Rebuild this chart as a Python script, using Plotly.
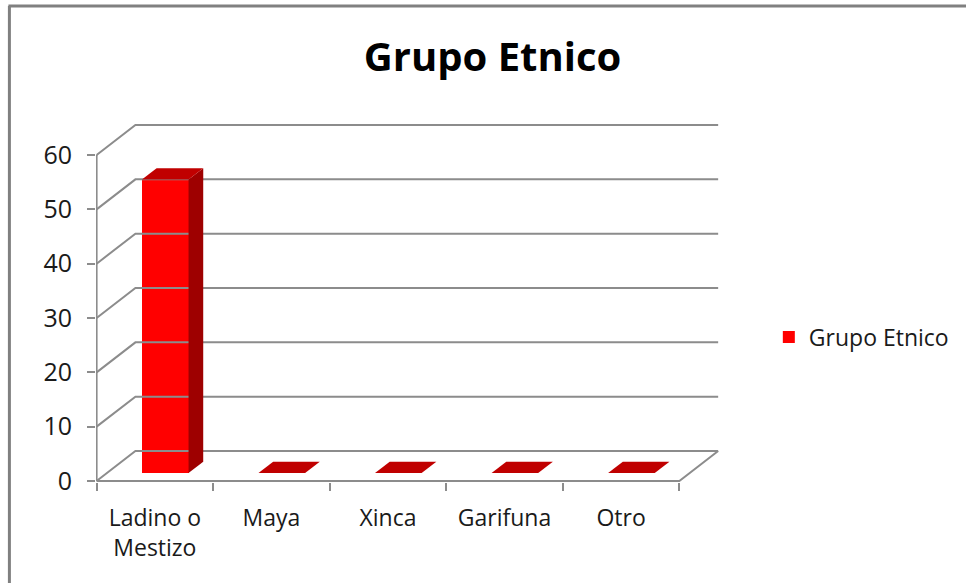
import plotly.graph_objects as go

# ---- data ----
categories = ["Ladino o<br>Mestizo", "Maya", "Xinca", "Garifuna", "Otro"]
values = [54, 0, 0, 0, 0]
series_name = "Grupo Etnico"
title_text = "Grupo Etnico"
y_ticks = [0, 10, 20, 30, 40, 50, 60]

# ---- 3D look parameters (projection of the depth axis, in axis units) ----
DX = 0.333      # depth shift in category units
DY = 5.52       # depth shift in value units
F0, F1 = 0.267, 0.645   # bar depth extent (fraction of floor depth)
BW = 0.40       # bar width (category units)
GRID = "#8C8C8C"
FRONT = "#FF0000"
SIDE = "#9E0000"
TOP = "#C00000"

W, H = 966, 583
PX_U = 117.1    # px per category unit
PX_V = 5.433    # px per value unit
X0_PX, Y0_PX = 96.6, 481.0
L, R_PX = 96, 735
T, B_PX = 120, 482
xmin = (L - X0_PX) / PX_U
xmax = (R_PX - X0_PX) / PX_U
ymax = (Y0_PX - T) / PX_V
ymin = (Y0_PX - B_PX) / PX_V

def px2paper_x(px):
    return (px - L) / (R_PX - L)

def px2paper_y(py):
    return (B_PX - py) / (B_PX - T)

n = len(categories)
fig = go.Figure()

# walls / gridlines
gx, gy = [], []
for v in y_ticks:
    gx += [0, DX, n + DX, None]
    gy += [v, v + DY, v + DY, None]
# floor front and right edges, front value axis
gx += [0, n, n + DX, None, 0, 0, None]
gy += [0, 0, DY, None, 0, y_ticks[-1], None]
fig.add_trace(go.Scatter(x=gx, y=gy, mode="lines", line=dict(color=GRID, width=2),
                         hoverinfo="skip", showlegend=False))

# bar front faces (real bar trace)
centers = [i + 0.5 + F0 * DX for i in range(n)]
fig.add_trace(go.Bar(x=centers, y=values, base=[F0 * DY] * n, width=BW,
                     marker=dict(color=FRONT, line=dict(width=0)),
                     name=series_name, showlegend=True))

# side and top faces
dd = (F1 - F0)
for i, v in enumerate(values):
    xl = i + 0.5 - BW / 2 + F0 * DX
    xr = xl + BW
    yb = F0 * DY
    if v > 0:
        fig.add_trace(go.Scatter(
            x=[xr, xr + dd * DX, xr + dd * DX, xr, xr],
            y=[yb, yb + dd * DY, yb + dd * DY + v, yb + v, yb],
            fill="toself", fillcolor=SIDE, mode="lines", line=dict(width=0, color=SIDE),
            hoverinfo="skip", showlegend=False))
    fig.add_trace(go.Scatter(
        x=[xl, xr, xr + dd * DX, xl + dd * DX, xl],
        y=[yb + v, yb + v, yb + dd * DY + v, yb + dd * DY + v, yb + v],
        fill="toself", fillcolor=TOP, mode="lines", line=dict(width=0, color=TOP),
        hoverinfo="skip", showlegend=False))

# outer border (top and left)
fig.add_shape(type="line", xref="paper", yref="paper",
              x0=px2paper_x(9), y0=px2paper_y(H + 5), x1=px2paper_x(9), y1=px2paper_y(6),
              line=dict(color="#808080", width=3))
fig.add_shape(type="line", xref="paper", yref="paper",
              x0=px2paper_x(8), y0=px2paper_y(6), x1=px2paper_x(W + 5), y1=px2paper_y(6),
              line=dict(color="#808080", width=3))

fig.update_layout(
    width=W, height=H,
    margin=dict(l=L, r=W - R_PX, t=T, b=H - B_PX),
    paper_bgcolor="white", plot_bgcolor="white",
    font=dict(family="Open Sans", size=23, color="#1a1a1a"),
    title=dict(text="<b>" + title_text + "</b>", xref="container", yref="container",
               x=492.5 / W, y=1 - 57 / H, xanchor="center", yanchor="middle",
               font=dict(family="Open Sans", size=40, color="black")),
    showlegend=True,
    legend=dict(x=px2paper_x(772), y=px2paper_y(337), xanchor="left", yanchor="middle",
                bgcolor="rgba(0,0,0,0)", borderwidth=0,
                font=dict(family="Open Sans", size=23, color="#1a1a1a")),
    bargap=0,
)
fig.update_xaxes(range=[xmin, xmax], showgrid=False, zeroline=False, showline=False,
                 tickmode="array", tickvals=[i + 0.5 for i in range(n)], ticktext=categories,
                 ticks="", ticklabelstandoff=20, tickfont=dict(size=23),
                 minor=dict(ticks="outside", tickmode="array", tickvals=list(range(n + 1)),
                            ticklen=8, tickwidth=2, tickcolor=GRID, showgrid=False))
fig.update_yaxes(range=[ymin, ymax], showgrid=False, zeroline=False, showline=False,
                 tickmode="array", tickvals=y_ticks, ticks="outside", ticklen=8, tickwidth=2,
                 tickcolor=GRID, ticklabelstandoff=10, tickfont=dict(size=25))

fig.write_html("out.html", config={"displayModeBar": False},
               post_script="document.body.style.margin='0';")
